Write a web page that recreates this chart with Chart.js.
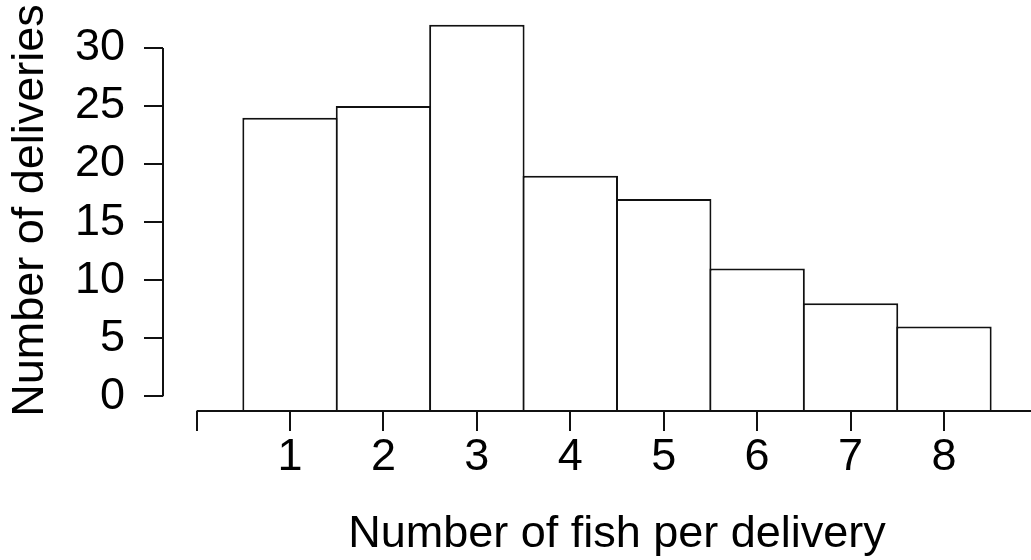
<!DOCTYPE html>
<html>
<head>
<meta charset="utf-8">
<title>Number of fish per delivery</title>
<script src="https://cdn.jsdelivr.net/npm/chart.js@4.4.1/dist/chart.umd.min.js"></script>
<style>
  html, body { margin: 0; padding: 0; background: #fff; overflow: hidden; }
  #wrap { position: relative; width: 1071px; height: 560px; }
</style>
</head>
<body>
<div id="wrap"><canvas id="hist"></canvas></div>
<script>
// Histogram of fish counts per delivery
const fishPerDelivery = [1, 2, 3, 4, 5, 6, 7, 8];
const deliveries = [24, 25, 32, 19, 17, 11, 8, 6];

// Axis ticks
const yTickValues = [0, 5, 10, 15, 20, 25, 30];
const xTickValues = [0, 1, 2, 3, 4, 5, 6, 7, 8, 9];
const xTickLabels = ['', '1', '2', '3', '4', '5', '6', '7', '8', ''];

// Plot region limits (range padded by 4% on each side)
const xLimits = [-0.36, 9.36];
const yLimits = [-1.28, 33.28];

const INK = '#111';
const FONT = '"Liberation Sans", Arial, sans-serif';

// Axis lines spanning first to last tick only
const axisLines = {
  id: 'axisLines',
  afterDatasetsDraw(chart) {
    const { ctx, scales: { x, y } } = chart;
    ctx.save();
    ctx.strokeStyle = INK;
    ctx.lineWidth = 2;
    ctx.lineCap = 'butt';
    const yAxisX = chart.chartArea.left;
    ctx.beginPath();
    ctx.moveTo(yAxisX, y.getPixelForValue(yTickValues[0]));
    ctx.lineTo(yAxisX, y.getPixelForValue(yTickValues[yTickValues.length - 1]));
    ctx.stroke();
    const xAxisY = chart.chartArea.bottom;
    ctx.beginPath();
    ctx.moveTo(x.getPixelForValue(xTickValues[0]), xAxisY);
    ctx.lineTo(x.getPixelForValue(xTickValues[xTickValues.length - 1]), xAxisY);
    ctx.stroke();
    ctx.restore();
  }
};

new Chart(document.getElementById('hist'), {
  type: 'bar',
  data: {
    datasets: [{
      data: fishPerDelivery.map((v, i) => ({ x: v, y: deliveries[i] })),
      base: yLimits[0],
      backgroundColor: '#fff',
      borderColor: INK,
      borderWidth: 2,
      borderSkipped: 'start',
      barPercentage: 1.0214,
      categoryPercentage: 1
    }]
  },
  options: {
    responsive: true,
    maintainAspectRatio: false,
    animation: false,
    devicePixelRatio: 1,
    layout: { padding: { top: 10, left: 0, right: 0, bottom: 0 } },
    plugins: { legend: { display: false }, tooltip: { enabled: false } },
    scales: {
      x: {
        type: 'linear',
        offset: false,
        min: xLimits[0],
        max: xLimits[1],
        afterBuildTicks(scale) { scale.ticks = xTickValues.map(v => ({ value: v })); },
        afterFit(scale) { scale.height = 149; scale.paddingLeft = 0; scale.paddingRight = 0; },
        border: { display: false },
        grid: { offset: false, drawOnChartArea: false, drawTicks: true, tickLength: 20, lineWidth: 2, color: INK },
        ticks: {
          autoSkip: false, maxRotation: 0, minRotation: 0, padding: 1, color: '#000',
          font: { family: FONT, size: 45, lineHeight: 1.14 },
          callback(value) { const i = xTickValues.indexOf(value); return i >= 0 ? xTickLabels[i] : ''; }
        },
        title: {
          display: true, text: 'Number of fish per delivery', color: '#000',
          font: { family: FONT, size: 45, lineHeight: 1.14 },
          padding: { top: 0, bottom: 0 }
        }
      },
      y: {
        type: 'linear',
        min: yLimits[0],
        max: yLimits[1],
        afterBuildTicks(scale) { scale.ticks = yTickValues.map(v => ({ value: v })); },
        afterFit(scale) { scale.width = 163; scale.paddingTop = 0; scale.paddingBottom = 0; },
        border: { display: false },
        grid: { drawOnChartArea: false, drawTicks: true, tickLength: 19, lineWidth: 2, color: INK },
        ticks: {
          autoSkip: false, padding: 19, color: '#000',
          font: { family: FONT, size: 45, lineHeight: 1.14 }
        },
        title: {
          display: true, text: 'Number of deliveries', color: '#000',
          font: { family: FONT, size: 45, lineHeight: 1.14 },
          padding: { top: 5, bottom: 0 }
        }
      }
    }
  },
  plugins: [axisLines]
});
</script>
</body>
</html>
